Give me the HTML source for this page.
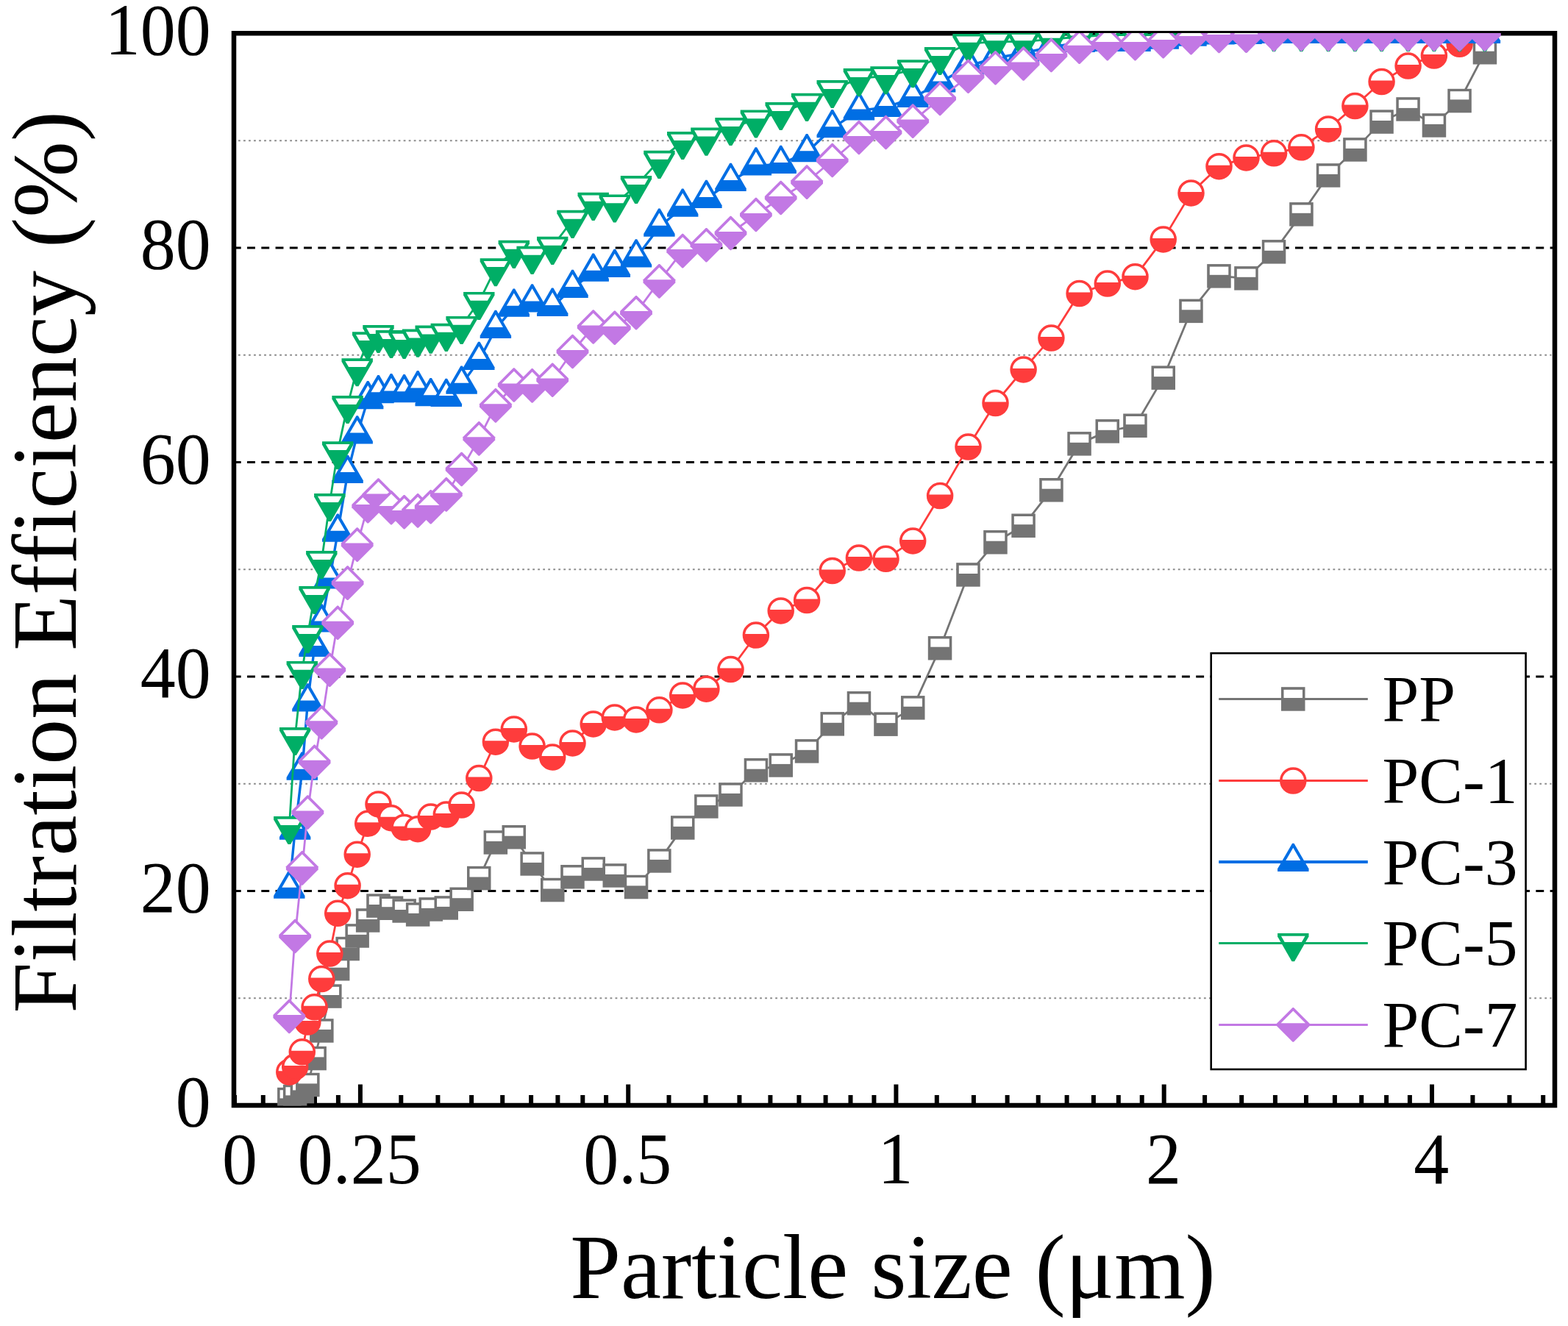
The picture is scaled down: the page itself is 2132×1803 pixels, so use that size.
<!DOCTYPE html>
<html lang="en"><head><meta charset="utf-8"><title>Filtration Efficiency vs Particle size</title>
<style>html,body{margin:0;padding:0;background:#fff;}body{width:2132px;height:1803px;overflow:hidden;}svg{display:block;}text{font-family:"Liberation Serif","Times New Roman",serif;fill:#000;font-variant-ligatures:none;font-kerning:none;}.tk{font-size:96px;}.ti{font-size:123.8px;}.lg{font-size:89.5px;}</style></head><body>
<svg xmlns="http://www.w3.org/2000/svg" width="2132" height="1803" viewBox="0 0 2132 1803">
<rect width="2132" height="1803" fill="#fff"/>
<defs><clipPath id="plotclip"><rect x="318" y="45" width="1796" height="1458.6"/></clipPath></defs>
<g id="grid" fill="none">
<line x1="324" x2="2109.5" y1="1357.25" y2="1357.25" stroke="#8c8c8c" stroke-width="2" stroke-dasharray="2.8 4.221"/>
<line x1="324" x2="2109.5" y1="1065.75" y2="1065.75" stroke="#8c8c8c" stroke-width="2" stroke-dasharray="2.8 4.221"/>
<line x1="324" x2="2109.5" y1="774.25" y2="774.25" stroke="#8c8c8c" stroke-width="2" stroke-dasharray="2.8 4.221"/>
<line x1="324" x2="2109.5" y1="482.75" y2="482.75" stroke="#8c8c8c" stroke-width="2" stroke-dasharray="2.8 4.221"/>
<line x1="324" x2="2109.5" y1="191.25" y2="191.25" stroke="#8c8c8c" stroke-width="2" stroke-dasharray="2.8 4.221"/>
<line x1="316.8" x2="2111" y1="1211.50" y2="1211.50" stroke="#000" stroke-width="3" stroke-dasharray="10.9 8.356"/>
<line x1="316.8" x2="2111" y1="920.00" y2="920.00" stroke="#000" stroke-width="3" stroke-dasharray="10.9 8.356"/>
<line x1="316.8" x2="2111" y1="628.50" y2="628.50" stroke="#000" stroke-width="3" stroke-dasharray="10.9 8.356"/>
<line x1="316.8" x2="2111" y1="337.00" y2="337.00" stroke="#000" stroke-width="3" stroke-dasharray="10.9 8.356"/>
</g>
<rect id="frame" x="318.0" y="45.25" width="1796.0" height="1457.75" fill="none" stroke="#000" stroke-width="6.5"/>
<g id="ticks" stroke="#000" stroke-width="6">
<line x1="319.0" x2="319.0" y1="1489" y2="1503"/>
<line x1="357.8" x2="357.8" y1="1489" y2="1503"/>
<line x1="394.1" x2="394.1" y1="1489" y2="1503"/>
<line x1="428.0" x2="428.0" y1="1489" y2="1503"/>
<line x1="459.9" x2="459.9" y1="1489" y2="1503"/>
<line x1="489.9" x2="489.9" y1="1474.5" y2="1503"/>
<line x1="545.3" x2="545.3" y1="1489" y2="1503"/>
<line x1="595.4" x2="595.4" y1="1489" y2="1503"/>
<line x1="641.1" x2="641.1" y1="1489" y2="1503"/>
<line x1="683.2" x2="683.2" y1="1489" y2="1503"/>
<line x1="722.1" x2="722.1" y1="1489" y2="1503"/>
<line x1="758.4" x2="758.4" y1="1489" y2="1503"/>
<line x1="792.3" x2="792.3" y1="1489" y2="1503"/>
<line x1="824.1" x2="824.1" y1="1489" y2="1503"/>
<line x1="854.2" x2="854.2" y1="1474.5" y2="1503"/>
<line x1="909.5" x2="909.5" y1="1489" y2="1503"/>
<line x1="959.6" x2="959.6" y1="1489" y2="1503"/>
<line x1="1005.4" x2="1005.4" y1="1489" y2="1503"/>
<line x1="1047.4" x2="1047.4" y1="1489" y2="1503"/>
<line x1="1086.4" x2="1086.4" y1="1489" y2="1503"/>
<line x1="1122.6" x2="1122.6" y1="1489" y2="1503"/>
<line x1="1156.5" x2="1156.5" y1="1489" y2="1503"/>
<line x1="1188.4" x2="1188.4" y1="1489" y2="1503"/>
<line x1="1218.4" x2="1218.4" y1="1474.5" y2="1503"/>
<line x1="1273.8" x2="1273.8" y1="1489" y2="1503"/>
<line x1="1323.9" x2="1323.9" y1="1489" y2="1503"/>
<line x1="1369.6" x2="1369.6" y1="1489" y2="1503"/>
<line x1="1411.7" x2="1411.7" y1="1489" y2="1503"/>
<line x1="1450.6" x2="1450.6" y1="1489" y2="1503"/>
<line x1="1486.9" x2="1486.9" y1="1489" y2="1503"/>
<line x1="1520.8" x2="1520.8" y1="1489" y2="1503"/>
<line x1="1552.7" x2="1552.7" y1="1489" y2="1503"/>
<line x1="1582.7" x2="1582.7" y1="1474.5" y2="1503"/>
<line x1="1638.1" x2="1638.1" y1="1489" y2="1503"/>
<line x1="1688.2" x2="1688.2" y1="1489" y2="1503"/>
<line x1="1733.9" x2="1733.9" y1="1489" y2="1503"/>
<line x1="1776.0" x2="1776.0" y1="1489" y2="1503"/>
<line x1="1814.9" x2="1814.9" y1="1489" y2="1503"/>
<line x1="1851.2" x2="1851.2" y1="1489" y2="1503"/>
<line x1="1885.1" x2="1885.1" y1="1489" y2="1503"/>
<line x1="1916.9" x2="1916.9" y1="1489" y2="1503"/>
<line x1="1947.0" x2="1947.0" y1="1474.5" y2="1503"/>
<line x1="2002.4" x2="2002.4" y1="1489" y2="1503"/>
<line x1="2052.4" x2="2052.4" y1="1489" y2="1503"/>
<line x1="2098.2" x2="2098.2" y1="1489" y2="1503"/>
</g>
<g id="series" clip-path="url(#plotclip)">
<g id="s-pp"><polyline points="393.3,1495 401.2,1491 410.8,1484 418.4,1475 427.6,1439 437.3,1401.4 448.3,1354.6 459.2,1317.2 472.6,1290.1 485.7,1272.4 500.2,1251.5 514.5,1231.6 532,1234.7 549.6,1238.5 568.1,1243.4 585.7,1236.4 606.8,1234.4 627.6,1222.8 651.3,1194.1 673.9,1145.4 698.8,1138.2 723.6,1174.4 751.2,1210.1 778.5,1192.3 806.7,1181.4 835.8,1190.4 865,1206 896.4,1170.4 928.2,1125.4 960.4,1096.4 993.5,1080.4 1027.9,1047.3 1061.7,1040.4 1097.1,1021.4 1131.7,984.4 1167.9,956.2 1204.5,984.6 1241.2,962.4 1278.1,881.3 1316.5,781.5 1353.5,737.3 1391.6,714.8 1429.4,666.2 1467.6,603.4 1505.8,586.4 1543.5,578.8 1581.7,513.6 1619.5,422.8 1657.5,375.4 1694.5,378.4 1732.1,342.4 1769.4,291.4 1806.1,238.4 1842.4,203.4 1878.6,165.6 1914.6,148.4 1949.9,170.4 1984.6,137 2018.9,71.3" fill="none" stroke="#747474" stroke-width="2.8" stroke-linejoin="round"/>
<rect x="377.1" y="1478.8" width="32.5" height="32.5" fill="#747474"/><rect x="380.6" y="1482.2" width="25.5" height="11.2" fill="#fff"/>
<rect x="384.9" y="1474.8" width="32.5" height="32.5" fill="#747474"/><rect x="388.4" y="1478.2" width="25.5" height="11.2" fill="#fff"/>
<rect x="394.6" y="1467.8" width="32.5" height="32.5" fill="#747474"/><rect x="398.1" y="1471.2" width="25.5" height="11.2" fill="#fff"/>
<rect x="402.1" y="1458.8" width="32.5" height="32.5" fill="#747474"/><rect x="405.6" y="1462.2" width="25.5" height="11.2" fill="#fff"/>
<rect x="411.4" y="1422.8" width="32.5" height="32.5" fill="#747474"/><rect x="414.9" y="1426.2" width="25.5" height="11.2" fill="#fff"/>
<rect x="421.1" y="1385.2" width="32.5" height="32.5" fill="#747474"/><rect x="424.6" y="1388.7" width="25.5" height="11.2" fill="#fff"/>
<rect x="432.1" y="1338.3" width="32.5" height="32.5" fill="#747474"/><rect x="435.6" y="1341.8" width="25.5" height="11.2" fill="#fff"/>
<rect x="442.9" y="1301" width="32.5" height="32.5" fill="#747474"/><rect x="446.4" y="1304.5" width="25.5" height="11.2" fill="#fff"/>
<rect x="456.4" y="1273.8" width="32.5" height="32.5" fill="#747474"/><rect x="459.9" y="1277.3" width="25.5" height="11.2" fill="#fff"/>
<rect x="469.4" y="1256.2" width="32.5" height="32.5" fill="#747474"/><rect x="472.9" y="1259.7" width="25.5" height="11.2" fill="#fff"/>
<rect x="483.9" y="1235.2" width="32.5" height="32.5" fill="#747474"/><rect x="487.4" y="1238.8" width="25.5" height="11.2" fill="#fff"/>
<rect x="498.2" y="1215.3" width="32.5" height="32.5" fill="#747474"/><rect x="501.8" y="1218.8" width="25.5" height="11.2" fill="#fff"/>
<rect x="515.8" y="1218.5" width="32.5" height="32.5" fill="#747474"/><rect x="519.2" y="1222" width="25.5" height="11.2" fill="#fff"/>
<rect x="533.4" y="1222.2" width="32.5" height="32.5" fill="#747474"/><rect x="536.9" y="1225.8" width="25.5" height="11.2" fill="#fff"/>
<rect x="551.9" y="1227.2" width="32.5" height="32.5" fill="#747474"/><rect x="555.4" y="1230.7" width="25.5" height="11.2" fill="#fff"/>
<rect x="569.5" y="1220.2" width="32.5" height="32.5" fill="#747474"/><rect x="573" y="1223.7" width="25.5" height="11.2" fill="#fff"/>
<rect x="590.5" y="1218.2" width="32.5" height="32.5" fill="#747474"/><rect x="594" y="1221.7" width="25.5" height="11.2" fill="#fff"/>
<rect x="611.4" y="1206.5" width="32.5" height="32.5" fill="#747474"/><rect x="614.9" y="1210" width="25.5" height="11.2" fill="#fff"/>
<rect x="635" y="1177.8" width="32.5" height="32.5" fill="#747474"/><rect x="638.5" y="1181.3" width="25.5" height="11.2" fill="#fff"/>
<rect x="657.6" y="1129.2" width="32.5" height="32.5" fill="#747474"/><rect x="661.1" y="1132.7" width="25.5" height="11.2" fill="#fff"/>
<rect x="682.5" y="1122" width="32.5" height="32.5" fill="#747474"/><rect x="686" y="1125.5" width="25.5" height="11.2" fill="#fff"/>
<rect x="707.4" y="1158.2" width="32.5" height="32.5" fill="#747474"/><rect x="710.9" y="1161.7" width="25.5" height="11.2" fill="#fff"/>
<rect x="735" y="1193.8" width="32.5" height="32.5" fill="#747474"/><rect x="738.5" y="1197.3" width="25.5" height="11.2" fill="#fff"/>
<rect x="762.2" y="1176" width="32.5" height="32.5" fill="#747474"/><rect x="765.8" y="1179.5" width="25.5" height="11.2" fill="#fff"/>
<rect x="790.5" y="1165.2" width="32.5" height="32.5" fill="#747474"/><rect x="794" y="1168.7" width="25.5" height="11.2" fill="#fff"/>
<rect x="819.5" y="1174.2" width="32.5" height="32.5" fill="#747474"/><rect x="823" y="1177.7" width="25.5" height="11.2" fill="#fff"/>
<rect x="848.8" y="1189.8" width="32.5" height="32.5" fill="#747474"/><rect x="852.2" y="1193.2" width="25.5" height="11.2" fill="#fff"/>
<rect x="880.1" y="1154.2" width="32.5" height="32.5" fill="#747474"/><rect x="883.6" y="1157.7" width="25.5" height="11.2" fill="#fff"/>
<rect x="912" y="1109.2" width="32.5" height="32.5" fill="#747474"/><rect x="915.5" y="1112.7" width="25.5" height="11.2" fill="#fff"/>
<rect x="944.1" y="1080.2" width="32.5" height="32.5" fill="#747474"/><rect x="947.6" y="1083.7" width="25.5" height="11.2" fill="#fff"/>
<rect x="977.2" y="1064.2" width="32.5" height="32.5" fill="#747474"/><rect x="980.8" y="1067.7" width="25.5" height="11.2" fill="#fff"/>
<rect x="1011.7" y="1031" width="32.5" height="32.5" fill="#747474"/><rect x="1015.2" y="1034.5" width="25.5" height="11.2" fill="#fff"/>
<rect x="1045.5" y="1024.2" width="32.5" height="32.5" fill="#747474"/><rect x="1049" y="1027.7" width="25.5" height="11.2" fill="#fff"/>
<rect x="1080.8" y="1005.1" width="32.5" height="32.5" fill="#747474"/><rect x="1084.3" y="1008.6" width="25.5" height="11.2" fill="#fff"/>
<rect x="1115.5" y="968.1" width="32.5" height="32.5" fill="#747474"/><rect x="1119" y="971.6" width="25.5" height="11.2" fill="#fff"/>
<rect x="1151.7" y="940" width="32.5" height="32.5" fill="#747474"/><rect x="1155.2" y="943.5" width="25.5" height="11.2" fill="#fff"/>
<rect x="1188.2" y="968.4" width="32.5" height="32.5" fill="#747474"/><rect x="1191.8" y="971.9" width="25.5" height="11.2" fill="#fff"/>
<rect x="1225" y="946.1" width="32.5" height="32.5" fill="#747474"/><rect x="1228.5" y="949.6" width="25.5" height="11.2" fill="#fff"/>
<rect x="1261.8" y="865" width="32.5" height="32.5" fill="#747474"/><rect x="1265.3" y="868.5" width="25.5" height="11.2" fill="#fff"/>
<rect x="1300.2" y="765.2" width="32.5" height="32.5" fill="#747474"/><rect x="1303.8" y="768.8" width="25.5" height="11.2" fill="#fff"/>
<rect x="1337.2" y="721" width="32.5" height="32.5" fill="#747474"/><rect x="1340.8" y="724.5" width="25.5" height="11.2" fill="#fff"/>
<rect x="1375.3" y="698.5" width="32.5" height="32.5" fill="#747474"/><rect x="1378.8" y="702" width="25.5" height="11.2" fill="#fff"/>
<rect x="1413.2" y="650" width="32.5" height="32.5" fill="#747474"/><rect x="1416.7" y="653.5" width="25.5" height="11.2" fill="#fff"/>
<rect x="1451.3" y="587.1" width="32.5" height="32.5" fill="#747474"/><rect x="1454.8" y="590.6" width="25.5" height="11.2" fill="#fff"/>
<rect x="1489.5" y="570.1" width="32.5" height="32.5" fill="#747474"/><rect x="1493" y="573.6" width="25.5" height="11.2" fill="#fff"/>
<rect x="1527.2" y="562.5" width="32.5" height="32.5" fill="#747474"/><rect x="1530.8" y="566" width="25.5" height="11.2" fill="#fff"/>
<rect x="1565.5" y="497.4" width="32.5" height="32.5" fill="#747474"/><rect x="1569" y="500.9" width="25.5" height="11.2" fill="#fff"/>
<rect x="1603.2" y="406.6" width="32.5" height="32.5" fill="#747474"/><rect x="1606.8" y="410.1" width="25.5" height="11.2" fill="#fff"/>
<rect x="1641.2" y="359.1" width="32.5" height="32.5" fill="#747474"/><rect x="1644.8" y="362.6" width="25.5" height="11.2" fill="#fff"/>
<rect x="1678.2" y="362.1" width="32.5" height="32.5" fill="#747474"/><rect x="1681.8" y="365.6" width="25.5" height="11.2" fill="#fff"/>
<rect x="1715.8" y="326.1" width="32.5" height="32.5" fill="#747474"/><rect x="1719.3" y="329.6" width="25.5" height="11.2" fill="#fff"/>
<rect x="1753.2" y="275.1" width="32.5" height="32.5" fill="#747474"/><rect x="1756.7" y="278.6" width="25.5" height="11.2" fill="#fff"/>
<rect x="1789.8" y="222.2" width="32.5" height="32.5" fill="#747474"/><rect x="1793.3" y="225.7" width="25.5" height="11.2" fill="#fff"/>
<rect x="1826.2" y="187.2" width="32.5" height="32.5" fill="#747474"/><rect x="1829.7" y="190.7" width="25.5" height="11.2" fill="#fff"/>
<rect x="1862.3" y="149.3" width="32.5" height="32.5" fill="#747474"/><rect x="1865.8" y="152.8" width="25.5" height="11.2" fill="#fff"/>
<rect x="1898.3" y="132.2" width="32.5" height="32.5" fill="#747474"/><rect x="1901.8" y="135.7" width="25.5" height="11.2" fill="#fff"/>
<rect x="1933.7" y="154.2" width="32.5" height="32.5" fill="#747474"/><rect x="1937.2" y="157.7" width="25.5" height="11.2" fill="#fff"/>
<rect x="1968.3" y="120.8" width="32.5" height="32.5" fill="#747474"/><rect x="1971.8" y="124.2" width="25.5" height="11.2" fill="#fff"/>
<rect x="2002.7" y="55" width="32.5" height="32.5" fill="#747474"/><rect x="2006.2" y="58.5" width="25.5" height="11.2" fill="#fff"/>
</g>
<g id="s-pc1"><polyline points="393.3,1457.7 401.2,1450.4 410.8,1430.3 418.4,1389.5 427.6,1369.3 437.3,1331 448.3,1296.6 459.2,1241.8 472.6,1204.2 485.7,1161.7 500.2,1119.8 514.5,1093.4 532,1112.2 549.6,1125 568.1,1127.2 585.7,1110.6 606.8,1107.5 627.6,1094.6 651.3,1058.1 673.9,1008.7 698.8,991.4 723.6,1014.6 751.2,1029.4 778.5,1010.4 806.7,984.4 835.8,975.4 865,978.4 896.4,965.3 928.2,945.4 960.4,936.7 993.5,910.1 1027.9,863.6 1061.7,830.4 1097.1,816 1131.7,776 1167.9,758.6 1204.5,759.8 1241.2,735.4 1278.1,674.1 1316.5,607.6 1353.5,548 1391.6,502.4 1429.4,459.6 1467.6,399 1505.8,385.6 1543.5,376.2 1581.7,325.4 1619.5,262.4 1657.5,226.2 1694.5,214.4 1732.1,208.3 1769.4,200.3 1806.1,175.4 1842.4,144 1878.6,111 1914.6,89.6 1949.9,75.5 1984.6,59.8" fill="none" stroke="#fe3c3c" stroke-width="2.8" stroke-linejoin="round"/>
<circle cx="393.3" cy="1457.7" r="16.5" fill="#fff" stroke="#fe3c3c" stroke-width="3.5"/><path d="M376.8 1456.2H409.8V1457.7A16.5 16.5 0 0 1 376.8 1457.7Z" fill="#fe3c3c"/>
<circle cx="401.2" cy="1450.4" r="16.5" fill="#fff" stroke="#fe3c3c" stroke-width="3.5"/><path d="M384.7 1448.9H417.7V1450.4A16.5 16.5 0 0 1 384.7 1450.4Z" fill="#fe3c3c"/>
<circle cx="410.8" cy="1430.3" r="16.5" fill="#fff" stroke="#fe3c3c" stroke-width="3.5"/><path d="M394.3 1428.8H427.3V1430.3A16.5 16.5 0 0 1 394.3 1430.3Z" fill="#fe3c3c"/>
<circle cx="418.4" cy="1389.5" r="16.5" fill="#fff" stroke="#fe3c3c" stroke-width="3.5"/><path d="M401.9 1388H434.9V1389.5A16.5 16.5 0 0 1 401.9 1389.5Z" fill="#fe3c3c"/>
<circle cx="427.6" cy="1369.3" r="16.5" fill="#fff" stroke="#fe3c3c" stroke-width="3.5"/><path d="M411.1 1367.8H444.1V1369.3A16.5 16.5 0 0 1 411.1 1369.3Z" fill="#fe3c3c"/>
<circle cx="437.3" cy="1331" r="16.5" fill="#fff" stroke="#fe3c3c" stroke-width="3.5"/><path d="M420.8 1329.5H453.8V1331A16.5 16.5 0 0 1 420.8 1331Z" fill="#fe3c3c"/>
<circle cx="448.3" cy="1296.6" r="16.5" fill="#fff" stroke="#fe3c3c" stroke-width="3.5"/><path d="M431.8 1295.1H464.8V1296.6A16.5 16.5 0 0 1 431.8 1296.6Z" fill="#fe3c3c"/>
<circle cx="459.2" cy="1241.8" r="16.5" fill="#fff" stroke="#fe3c3c" stroke-width="3.5"/><path d="M442.7 1240.3H475.7V1241.8A16.5 16.5 0 0 1 442.7 1241.8Z" fill="#fe3c3c"/>
<circle cx="472.6" cy="1204.2" r="16.5" fill="#fff" stroke="#fe3c3c" stroke-width="3.5"/><path d="M456.1 1202.7H489.1V1204.2A16.5 16.5 0 0 1 456.1 1204.2Z" fill="#fe3c3c"/>
<circle cx="485.7" cy="1161.7" r="16.5" fill="#fff" stroke="#fe3c3c" stroke-width="3.5"/><path d="M469.2 1160.2H502.2V1161.7A16.5 16.5 0 0 1 469.2 1161.7Z" fill="#fe3c3c"/>
<circle cx="500.2" cy="1119.8" r="16.5" fill="#fff" stroke="#fe3c3c" stroke-width="3.5"/><path d="M483.7 1118.3H516.7V1119.8A16.5 16.5 0 0 1 483.7 1119.8Z" fill="#fe3c3c"/>
<circle cx="514.5" cy="1093.4" r="16.5" fill="#fff" stroke="#fe3c3c" stroke-width="3.5"/><path d="M498 1091.9H531V1093.4A16.5 16.5 0 0 1 498 1093.4Z" fill="#fe3c3c"/>
<circle cx="532" cy="1112.2" r="16.5" fill="#fff" stroke="#fe3c3c" stroke-width="3.5"/><path d="M515.5 1110.7H548.5V1112.2A16.5 16.5 0 0 1 515.5 1112.2Z" fill="#fe3c3c"/>
<circle cx="549.6" cy="1125" r="16.5" fill="#fff" stroke="#fe3c3c" stroke-width="3.5"/><path d="M533.1 1123.5H566.1V1125A16.5 16.5 0 0 1 533.1 1125Z" fill="#fe3c3c"/>
<circle cx="568.1" cy="1127.2" r="16.5" fill="#fff" stroke="#fe3c3c" stroke-width="3.5"/><path d="M551.6 1125.7H584.6V1127.2A16.5 16.5 0 0 1 551.6 1127.2Z" fill="#fe3c3c"/>
<circle cx="585.7" cy="1110.6" r="16.5" fill="#fff" stroke="#fe3c3c" stroke-width="3.5"/><path d="M569.2 1109.1H602.2V1110.6A16.5 16.5 0 0 1 569.2 1110.6Z" fill="#fe3c3c"/>
<circle cx="606.8" cy="1107.5" r="16.5" fill="#fff" stroke="#fe3c3c" stroke-width="3.5"/><path d="M590.3 1106H623.3V1107.5A16.5 16.5 0 0 1 590.3 1107.5Z" fill="#fe3c3c"/>
<circle cx="627.6" cy="1094.6" r="16.5" fill="#fff" stroke="#fe3c3c" stroke-width="3.5"/><path d="M611.1 1093.1H644.1V1094.6A16.5 16.5 0 0 1 611.1 1094.6Z" fill="#fe3c3c"/>
<circle cx="651.3" cy="1058.1" r="16.5" fill="#fff" stroke="#fe3c3c" stroke-width="3.5"/><path d="M634.8 1056.6H667.8V1058.1A16.5 16.5 0 0 1 634.8 1058.1Z" fill="#fe3c3c"/>
<circle cx="673.9" cy="1008.7" r="16.5" fill="#fff" stroke="#fe3c3c" stroke-width="3.5"/><path d="M657.4 1007.2H690.4V1008.7A16.5 16.5 0 0 1 657.4 1008.7Z" fill="#fe3c3c"/>
<circle cx="698.8" cy="991.4" r="16.5" fill="#fff" stroke="#fe3c3c" stroke-width="3.5"/><path d="M682.3 989.9H715.3V991.4A16.5 16.5 0 0 1 682.3 991.4Z" fill="#fe3c3c"/>
<circle cx="723.6" cy="1014.6" r="16.5" fill="#fff" stroke="#fe3c3c" stroke-width="3.5"/><path d="M707.1 1013.1H740.1V1014.6A16.5 16.5 0 0 1 707.1 1014.6Z" fill="#fe3c3c"/>
<circle cx="751.2" cy="1029.4" r="16.5" fill="#fff" stroke="#fe3c3c" stroke-width="3.5"/><path d="M734.7 1027.9H767.7V1029.4A16.5 16.5 0 0 1 734.7 1029.4Z" fill="#fe3c3c"/>
<circle cx="778.5" cy="1010.4" r="16.5" fill="#fff" stroke="#fe3c3c" stroke-width="3.5"/><path d="M762 1008.9H795V1010.4A16.5 16.5 0 0 1 762 1010.4Z" fill="#fe3c3c"/>
<circle cx="806.7" cy="984.4" r="16.5" fill="#fff" stroke="#fe3c3c" stroke-width="3.5"/><path d="M790.2 982.9H823.2V984.4A16.5 16.5 0 0 1 790.2 984.4Z" fill="#fe3c3c"/>
<circle cx="835.8" cy="975.4" r="16.5" fill="#fff" stroke="#fe3c3c" stroke-width="3.5"/><path d="M819.3 973.9H852.3V975.4A16.5 16.5 0 0 1 819.3 975.4Z" fill="#fe3c3c"/>
<circle cx="865" cy="978.4" r="16.5" fill="#fff" stroke="#fe3c3c" stroke-width="3.5"/><path d="M848.5 976.9H881.5V978.4A16.5 16.5 0 0 1 848.5 978.4Z" fill="#fe3c3c"/>
<circle cx="896.4" cy="965.3" r="16.5" fill="#fff" stroke="#fe3c3c" stroke-width="3.5"/><path d="M879.9 963.8H912.9V965.3A16.5 16.5 0 0 1 879.9 965.3Z" fill="#fe3c3c"/>
<circle cx="928.2" cy="945.4" r="16.5" fill="#fff" stroke="#fe3c3c" stroke-width="3.5"/><path d="M911.7 943.9H944.7V945.4A16.5 16.5 0 0 1 911.7 945.4Z" fill="#fe3c3c"/>
<circle cx="960.4" cy="936.7" r="16.5" fill="#fff" stroke="#fe3c3c" stroke-width="3.5"/><path d="M943.9 935.2H976.9V936.7A16.5 16.5 0 0 1 943.9 936.7Z" fill="#fe3c3c"/>
<circle cx="993.5" cy="910.1" r="16.5" fill="#fff" stroke="#fe3c3c" stroke-width="3.5"/><path d="M977 908.6H1010V910.1A16.5 16.5 0 0 1 977 910.1Z" fill="#fe3c3c"/>
<circle cx="1027.9" cy="863.6" r="16.5" fill="#fff" stroke="#fe3c3c" stroke-width="3.5"/><path d="M1011.4 862.1H1044.4V863.6A16.5 16.5 0 0 1 1011.4 863.6Z" fill="#fe3c3c"/>
<circle cx="1061.7" cy="830.4" r="16.5" fill="#fff" stroke="#fe3c3c" stroke-width="3.5"/><path d="M1045.2 828.9H1078.2V830.4A16.5 16.5 0 0 1 1045.2 830.4Z" fill="#fe3c3c"/>
<circle cx="1097.1" cy="816" r="16.5" fill="#fff" stroke="#fe3c3c" stroke-width="3.5"/><path d="M1080.6 814.5H1113.6V816A16.5 16.5 0 0 1 1080.6 816Z" fill="#fe3c3c"/>
<circle cx="1131.7" cy="776" r="16.5" fill="#fff" stroke="#fe3c3c" stroke-width="3.5"/><path d="M1115.2 774.5H1148.2V776A16.5 16.5 0 0 1 1115.2 776Z" fill="#fe3c3c"/>
<circle cx="1167.9" cy="758.6" r="16.5" fill="#fff" stroke="#fe3c3c" stroke-width="3.5"/><path d="M1151.4 757.1H1184.4V758.6A16.5 16.5 0 0 1 1151.4 758.6Z" fill="#fe3c3c"/>
<circle cx="1204.5" cy="759.8" r="16.5" fill="#fff" stroke="#fe3c3c" stroke-width="3.5"/><path d="M1188 758.3H1221V759.8A16.5 16.5 0 0 1 1188 759.8Z" fill="#fe3c3c"/>
<circle cx="1241.2" cy="735.4" r="16.5" fill="#fff" stroke="#fe3c3c" stroke-width="3.5"/><path d="M1224.7 733.9H1257.7V735.4A16.5 16.5 0 0 1 1224.7 735.4Z" fill="#fe3c3c"/>
<circle cx="1278.1" cy="674.1" r="16.5" fill="#fff" stroke="#fe3c3c" stroke-width="3.5"/><path d="M1261.6 672.6H1294.6V674.1A16.5 16.5 0 0 1 1261.6 674.1Z" fill="#fe3c3c"/>
<circle cx="1316.5" cy="607.6" r="16.5" fill="#fff" stroke="#fe3c3c" stroke-width="3.5"/><path d="M1300 606.1H1333V607.6A16.5 16.5 0 0 1 1300 607.6Z" fill="#fe3c3c"/>
<circle cx="1353.5" cy="548" r="16.5" fill="#fff" stroke="#fe3c3c" stroke-width="3.5"/><path d="M1337 546.5H1370V548A16.5 16.5 0 0 1 1337 548Z" fill="#fe3c3c"/>
<circle cx="1391.6" cy="502.4" r="16.5" fill="#fff" stroke="#fe3c3c" stroke-width="3.5"/><path d="M1375.1 500.9H1408.1V502.4A16.5 16.5 0 0 1 1375.1 502.4Z" fill="#fe3c3c"/>
<circle cx="1429.4" cy="459.6" r="16.5" fill="#fff" stroke="#fe3c3c" stroke-width="3.5"/><path d="M1412.9 458.1H1445.9V459.6A16.5 16.5 0 0 1 1412.9 459.6Z" fill="#fe3c3c"/>
<circle cx="1467.6" cy="399" r="16.5" fill="#fff" stroke="#fe3c3c" stroke-width="3.5"/><path d="M1451.1 397.5H1484.1V399A16.5 16.5 0 0 1 1451.1 399Z" fill="#fe3c3c"/>
<circle cx="1505.8" cy="385.6" r="16.5" fill="#fff" stroke="#fe3c3c" stroke-width="3.5"/><path d="M1489.3 384.1H1522.3V385.6A16.5 16.5 0 0 1 1489.3 385.6Z" fill="#fe3c3c"/>
<circle cx="1543.5" cy="376.2" r="16.5" fill="#fff" stroke="#fe3c3c" stroke-width="3.5"/><path d="M1527 374.7H1560V376.2A16.5 16.5 0 0 1 1527 376.2Z" fill="#fe3c3c"/>
<circle cx="1581.7" cy="325.4" r="16.5" fill="#fff" stroke="#fe3c3c" stroke-width="3.5"/><path d="M1565.2 323.9H1598.2V325.4A16.5 16.5 0 0 1 1565.2 325.4Z" fill="#fe3c3c"/>
<circle cx="1619.5" cy="262.4" r="16.5" fill="#fff" stroke="#fe3c3c" stroke-width="3.5"/><path d="M1603 260.9H1636V262.4A16.5 16.5 0 0 1 1603 262.4Z" fill="#fe3c3c"/>
<circle cx="1657.5" cy="226.2" r="16.5" fill="#fff" stroke="#fe3c3c" stroke-width="3.5"/><path d="M1641 224.7H1674V226.2A16.5 16.5 0 0 1 1641 226.2Z" fill="#fe3c3c"/>
<circle cx="1694.5" cy="214.4" r="16.5" fill="#fff" stroke="#fe3c3c" stroke-width="3.5"/><path d="M1678 212.9H1711V214.4A16.5 16.5 0 0 1 1678 214.4Z" fill="#fe3c3c"/>
<circle cx="1732.1" cy="208.3" r="16.5" fill="#fff" stroke="#fe3c3c" stroke-width="3.5"/><path d="M1715.6 206.8H1748.6V208.3A16.5 16.5 0 0 1 1715.6 208.3Z" fill="#fe3c3c"/>
<circle cx="1769.4" cy="200.3" r="16.5" fill="#fff" stroke="#fe3c3c" stroke-width="3.5"/><path d="M1752.9 198.8H1785.9V200.3A16.5 16.5 0 0 1 1752.9 200.3Z" fill="#fe3c3c"/>
<circle cx="1806.1" cy="175.4" r="16.5" fill="#fff" stroke="#fe3c3c" stroke-width="3.5"/><path d="M1789.6 173.9H1822.6V175.4A16.5 16.5 0 0 1 1789.6 175.4Z" fill="#fe3c3c"/>
<circle cx="1842.4" cy="144" r="16.5" fill="#fff" stroke="#fe3c3c" stroke-width="3.5"/><path d="M1825.9 142.5H1858.9V144A16.5 16.5 0 0 1 1825.9 144Z" fill="#fe3c3c"/>
<circle cx="1878.6" cy="111" r="16.5" fill="#fff" stroke="#fe3c3c" stroke-width="3.5"/><path d="M1862.1 109.5H1895.1V111A16.5 16.5 0 0 1 1862.1 111Z" fill="#fe3c3c"/>
<circle cx="1914.6" cy="89.6" r="16.5" fill="#fff" stroke="#fe3c3c" stroke-width="3.5"/><path d="M1898.1 88.1H1931.1V89.6A16.5 16.5 0 0 1 1898.1 89.6Z" fill="#fe3c3c"/>
<circle cx="1949.9" cy="75.5" r="16.5" fill="#fff" stroke="#fe3c3c" stroke-width="3.5"/><path d="M1933.4 74H1966.4V75.5A16.5 16.5 0 0 1 1933.4 75.5Z" fill="#fe3c3c"/>
<circle cx="1984.6" cy="59.8" r="16.5" fill="#fff" stroke="#fe3c3c" stroke-width="3.5"/><path d="M1968.1 58.3H2001.1V59.8A16.5 16.5 0 0 1 1968.1 59.8Z" fill="#fe3c3c"/>
</g>
<g id="s-pc3"><polyline points="393.3,1208.8 401.2,1128.7 410.8,1047.7 418.4,954.6 427.6,879.9 437.3,846.6 448.3,787.5 459.2,723.7 472.6,644 485.7,590.6 500.2,543.2 514.5,535.2 532,533.4 549.6,534.2 568.1,529.4 585.7,539.2 606.8,540 627.6,522.8 651.3,490 673.9,447.1 698.8,417.8 723.6,411.5 751.2,416.9 778.5,392 806.7,369.8 835.8,364 865,350.6 896.4,308.8 928.2,281.8 960.4,270 993.5,247 1027.9,225.6 1061.7,223 1097.1,207.2 1131.7,174.2 1167.9,150.4 1204.5,146 1241.2,133 1278.1,112.5 1316.5,89.5 1353.5,79 1391.6,72 1429.4,64 1467.6,58 1505.8,56.9 1543.5,56.9 1581.7,53.8 1619.5,49.8 1657.5,47.5 1694.5,47 1732.1,46 1769.4,46 1806.1,46 1842.4,46 1878.6,46 1914.6,46 1949.9,46 1984.6,46 2018.9,46" fill="none" stroke="#006ee4" stroke-width="3.4" stroke-linejoin="round"/>
<path d="M392.1 1183.5L394.5 1183.5L414.5 1218.1L414.5 1221.8L372.1 1221.8L372.1 1218.1Z" fill="#006ee4"/><path d="M393.3 1189.5L403.3 1206.8L383.3 1206.8Z" fill="#fff"/>
<path d="M400 1103.4L402.4 1103.4L422.4 1138L422.4 1141.7L380 1141.7L380 1138Z" fill="#006ee4"/><path d="M401.2 1109.4L411.2 1126.7L391.2 1126.7Z" fill="#fff"/>
<path d="M409.6 1022.4L412 1022.4L432 1057L432 1060.7L389.6 1060.7L389.6 1057Z" fill="#006ee4"/><path d="M410.8 1028.4L420.8 1045.7L400.8 1045.7Z" fill="#fff"/>
<path d="M417.2 929.3L419.6 929.3L439.6 963.9L439.6 967.6L397.2 967.6L397.2 963.9Z" fill="#006ee4"/><path d="M418.4 935.3L428.4 952.6L408.4 952.6Z" fill="#fff"/>
<path d="M426.4 854.6L428.8 854.6L448.8 889.2L448.8 892.9L406.4 892.9L406.4 889.2Z" fill="#006ee4"/><path d="M427.6 860.6L437.6 877.9L417.6 877.9Z" fill="#fff"/>
<path d="M436.1 821.3L438.5 821.3L458.5 855.9L458.5 859.6L416.1 859.6L416.1 855.9Z" fill="#006ee4"/><path d="M437.3 827.3L447.3 844.6L427.3 844.6Z" fill="#fff"/>
<path d="M447.1 762.2L449.5 762.2L469.5 796.8L469.5 800.5L427.1 800.5L427.1 796.8Z" fill="#006ee4"/><path d="M448.3 768.2L458.3 785.5L438.3 785.5Z" fill="#fff"/>
<path d="M458 698.4L460.4 698.4L480.4 733L480.4 736.7L438 736.7L438 733Z" fill="#006ee4"/><path d="M459.2 704.4L469.2 721.7L449.2 721.7Z" fill="#fff"/>
<path d="M471.4 618.7L473.8 618.7L493.8 653.3L493.8 657L451.4 657L451.4 653.3Z" fill="#006ee4"/><path d="M472.6 624.7L482.6 642L462.6 642Z" fill="#fff"/>
<path d="M484.5 565.3L486.9 565.3L506.9 599.9L506.9 603.6L464.5 603.6L464.5 599.9Z" fill="#006ee4"/><path d="M485.7 571.3L495.7 588.6L475.7 588.6Z" fill="#fff"/>
<path d="M499 517.9L501.4 517.9L521.4 552.5L521.4 556.2L479 556.2L479 552.5Z" fill="#006ee4"/><path d="M500.2 523.9L510.2 541.2L490.2 541.2Z" fill="#fff"/>
<path d="M513.3 509.9L515.7 509.9L535.7 544.5L535.7 548.2L493.3 548.2L493.3 544.5Z" fill="#006ee4"/><path d="M514.5 515.9L524.5 533.2L504.5 533.2Z" fill="#fff"/>
<path d="M530.8 508.1L533.2 508.1L553.2 542.7L553.2 546.4L510.8 546.4L510.8 542.7Z" fill="#006ee4"/><path d="M532 514.1L542 531.4L522 531.4Z" fill="#fff"/>
<path d="M548.4 508.9L550.8 508.9L570.8 543.5L570.8 547.2L528.4 547.2L528.4 543.5Z" fill="#006ee4"/><path d="M549.6 514.9L559.6 532.2L539.6 532.2Z" fill="#fff"/>
<path d="M566.9 504.1L569.3 504.1L589.3 538.7L589.3 542.4L546.9 542.4L546.9 538.7Z" fill="#006ee4"/><path d="M568.1 510.1L578.1 527.4L558.1 527.4Z" fill="#fff"/>
<path d="M584.5 513.9L586.9 513.9L606.9 548.5L606.9 552.2L564.5 552.2L564.5 548.5Z" fill="#006ee4"/><path d="M585.7 519.9L595.7 537.2L575.7 537.2Z" fill="#fff"/>
<path d="M605.6 514.7L608 514.7L628 549.3L628 553L585.6 553L585.6 549.3Z" fill="#006ee4"/><path d="M606.8 520.7L616.8 538L596.8 538Z" fill="#fff"/>
<path d="M626.4 497.5L628.8 497.5L648.8 532.1L648.8 535.8L606.4 535.8L606.4 532.1Z" fill="#006ee4"/><path d="M627.6 503.5L637.6 520.8L617.6 520.8Z" fill="#fff"/>
<path d="M650.1 464.7L652.5 464.7L672.5 499.3L672.5 503L630.1 503L630.1 499.3Z" fill="#006ee4"/><path d="M651.3 470.7L661.3 488L641.3 488Z" fill="#fff"/>
<path d="M672.7 421.8L675.1 421.8L695.1 456.4L695.1 460.1L652.7 460.1L652.7 456.4Z" fill="#006ee4"/><path d="M673.9 427.8L683.9 445.1L663.9 445.1Z" fill="#fff"/>
<path d="M697.6 392.5L700 392.5L720 427.1L720 430.8L677.6 430.8L677.6 427.1Z" fill="#006ee4"/><path d="M698.8 398.5L708.8 415.8L688.8 415.8Z" fill="#fff"/>
<path d="M722.4 386.2L724.8 386.2L744.8 420.8L744.8 424.5L702.4 424.5L702.4 420.8Z" fill="#006ee4"/><path d="M723.6 392.2L733.6 409.5L713.6 409.5Z" fill="#fff"/>
<path d="M750 391.6L752.4 391.6L772.4 426.2L772.4 429.9L730 429.9L730 426.2Z" fill="#006ee4"/><path d="M751.2 397.6L761.2 414.9L741.2 414.9Z" fill="#fff"/>
<path d="M777.3 366.7L779.7 366.7L799.7 401.3L799.7 405L757.3 405L757.3 401.3Z" fill="#006ee4"/><path d="M778.5 372.7L788.5 390L768.5 390Z" fill="#fff"/>
<path d="M805.5 344.5L807.9 344.5L827.9 379.1L827.9 382.8L785.5 382.8L785.5 379.1Z" fill="#006ee4"/><path d="M806.7 350.5L816.7 367.8L796.7 367.8Z" fill="#fff"/>
<path d="M834.6 338.7L837 338.7L857 373.3L857 377L814.6 377L814.6 373.3Z" fill="#006ee4"/><path d="M835.8 344.7L845.8 362L825.8 362Z" fill="#fff"/>
<path d="M863.8 325.3L866.2 325.3L886.2 359.9L886.2 363.6L843.8 363.6L843.8 359.9Z" fill="#006ee4"/><path d="M865 331.3L875 348.6L855 348.6Z" fill="#fff"/>
<path d="M895.2 283.5L897.6 283.5L917.6 318.1L917.6 321.8L875.2 321.8L875.2 318.1Z" fill="#006ee4"/><path d="M896.4 289.5L906.4 306.8L886.4 306.8Z" fill="#fff"/>
<path d="M927 256.5L929.4 256.5L949.4 291.1L949.4 294.8L907 294.8L907 291.1Z" fill="#006ee4"/><path d="M928.2 262.5L938.2 279.8L918.2 279.8Z" fill="#fff"/>
<path d="M959.2 244.7L961.6 244.7L981.6 279.3L981.6 283L939.2 283L939.2 279.3Z" fill="#006ee4"/><path d="M960.4 250.7L970.4 268L950.4 268Z" fill="#fff"/>
<path d="M992.3 221.7L994.7 221.7L1014.7 256.3L1014.7 260L972.3 260L972.3 256.3Z" fill="#006ee4"/><path d="M993.5 227.7L1003.5 245L983.5 245Z" fill="#fff"/>
<path d="M1026.7 200.3L1029.1 200.3L1049.1 234.9L1049.1 238.6L1006.7 238.6L1006.7 234.9Z" fill="#006ee4"/><path d="M1027.9 206.3L1037.9 223.6L1017.9 223.6Z" fill="#fff"/>
<path d="M1060.5 197.7L1062.9 197.7L1082.9 232.3L1082.9 236L1040.5 236L1040.5 232.3Z" fill="#006ee4"/><path d="M1061.7 203.7L1071.7 221L1051.7 221Z" fill="#fff"/>
<path d="M1095.9 181.9L1098.3 181.9L1118.3 216.5L1118.3 220.2L1075.9 220.2L1075.9 216.5Z" fill="#006ee4"/><path d="M1097.1 187.9L1107.1 205.2L1087.1 205.2Z" fill="#fff"/>
<path d="M1130.5 148.9L1132.9 148.9L1152.9 183.5L1152.9 187.2L1110.5 187.2L1110.5 183.5Z" fill="#006ee4"/><path d="M1131.7 154.9L1141.7 172.2L1121.7 172.2Z" fill="#fff"/>
<path d="M1166.7 125.1L1169.1 125.1L1189.1 159.7L1189.1 163.4L1146.7 163.4L1146.7 159.7Z" fill="#006ee4"/><path d="M1167.9 131.1L1177.9 148.4L1157.9 148.4Z" fill="#fff"/>
<path d="M1203.3 120.7L1205.7 120.7L1225.7 155.3L1225.7 159L1183.3 159L1183.3 155.3Z" fill="#006ee4"/><path d="M1204.5 126.7L1214.5 144L1194.5 144Z" fill="#fff"/>
<path d="M1240 107.7L1242.4 107.7L1262.4 142.3L1262.4 146L1220 146L1220 142.3Z" fill="#006ee4"/><path d="M1241.2 113.7L1251.2 131L1231.2 131Z" fill="#fff"/>
<path d="M1276.9 87.2L1279.3 87.2L1299.3 121.8L1299.3 125.5L1256.9 125.5L1256.9 121.8Z" fill="#006ee4"/><path d="M1278.1 93.2L1288.1 110.5L1268.1 110.5Z" fill="#fff"/>
<path d="M1315.3 64.2L1317.7 64.2L1337.7 98.8L1337.7 102.5L1295.3 102.5L1295.3 98.8Z" fill="#006ee4"/><path d="M1316.5 70.2L1326.5 87.5L1306.5 87.5Z" fill="#fff"/>
<path d="M1352.3 53.7L1354.7 53.7L1374.7 88.3L1374.7 92L1332.3 92L1332.3 88.3Z" fill="#006ee4"/><path d="M1353.5 59.7L1363.5 77L1343.5 77Z" fill="#fff"/>
<path d="M1390.4 46.7L1392.8 46.7L1412.8 81.3L1412.8 85L1370.4 85L1370.4 81.3Z" fill="#006ee4"/><path d="M1391.6 52.7L1401.6 70L1381.6 70Z" fill="#fff"/>
<path d="M1428.2 38.7L1430.6 38.7L1450.6 73.3L1450.6 77L1408.2 77L1408.2 73.3Z" fill="#006ee4"/><path d="M1429.4 44.7L1439.4 62L1419.4 62Z" fill="#fff"/>
<path d="M1466.4 32.7L1468.8 32.7L1488.8 67.3L1488.8 71L1446.4 71L1446.4 67.3Z" fill="#006ee4"/><path d="M1467.6 38.7L1477.6 56L1457.6 56Z" fill="#fff"/>
<path d="M1504.6 31.6L1507 31.6L1527 66.2L1527 69.9L1484.6 69.9L1484.6 66.2Z" fill="#006ee4"/><path d="M1505.8 37.6L1515.8 54.9L1495.8 54.9Z" fill="#fff"/>
<path d="M1542.3 31.6L1544.7 31.6L1564.7 66.2L1564.7 69.9L1522.3 69.9L1522.3 66.2Z" fill="#006ee4"/><path d="M1543.5 37.6L1553.5 54.9L1533.5 54.9Z" fill="#fff"/>
<path d="M1580.5 28.5L1582.9 28.5L1602.9 63.1L1602.9 66.8L1560.5 66.8L1560.5 63.1Z" fill="#006ee4"/><path d="M1581.7 34.5L1591.7 51.8L1571.7 51.8Z" fill="#fff"/>
<path d="M1618.3 24.5L1620.7 24.5L1640.7 59.1L1640.7 62.8L1598.3 62.8L1598.3 59.1Z" fill="#006ee4"/><path d="M1619.5 30.5L1629.5 47.8L1609.5 47.8Z" fill="#fff"/>
<path d="M1656.3 22.2L1658.7 22.2L1678.7 56.8L1678.7 60.5L1636.3 60.5L1636.3 56.8Z" fill="#006ee4"/><path d="M1657.5 28.2L1667.5 45.5L1647.5 45.5Z" fill="#fff"/>
<path d="M1693.3 21.7L1695.7 21.7L1715.7 56.3L1715.7 60L1673.3 60L1673.3 56.3Z" fill="#006ee4"/><path d="M1694.5 27.7L1704.5 45L1684.5 45Z" fill="#fff"/>
<path d="M1730.9 20.7L1733.3 20.7L1753.3 55.3L1753.3 59L1710.9 59L1710.9 55.3Z" fill="#006ee4"/><path d="M1732.1 26.7L1742.1 44L1722.1 44Z" fill="#fff"/>
<path d="M1768.2 20.7L1770.6 20.7L1790.6 55.3L1790.6 59L1748.2 59L1748.2 55.3Z" fill="#006ee4"/><path d="M1769.4 26.7L1779.4 44L1759.4 44Z" fill="#fff"/>
<path d="M1804.9 20.7L1807.3 20.7L1827.3 55.3L1827.3 59L1784.9 59L1784.9 55.3Z" fill="#006ee4"/><path d="M1806.1 26.7L1816.1 44L1796.1 44Z" fill="#fff"/>
<path d="M1841.2 20.7L1843.6 20.7L1863.6 55.3L1863.6 59L1821.2 59L1821.2 55.3Z" fill="#006ee4"/><path d="M1842.4 26.7L1852.4 44L1832.4 44Z" fill="#fff"/>
<path d="M1877.4 20.7L1879.8 20.7L1899.8 55.3L1899.8 59L1857.4 59L1857.4 55.3Z" fill="#006ee4"/><path d="M1878.6 26.7L1888.6 44L1868.6 44Z" fill="#fff"/>
<path d="M1913.4 20.7L1915.8 20.7L1935.8 55.3L1935.8 59L1893.4 59L1893.4 55.3Z" fill="#006ee4"/><path d="M1914.6 26.7L1924.6 44L1904.6 44Z" fill="#fff"/>
<path d="M1948.7 20.7L1951.1 20.7L1971.1 55.3L1971.1 59L1928.7 59L1928.7 55.3Z" fill="#006ee4"/><path d="M1949.9 26.7L1959.9 44L1939.9 44Z" fill="#fff"/>
<path d="M1983.4 20.7L1985.8 20.7L2005.8 55.3L2005.8 59L1963.4 59L1963.4 55.3Z" fill="#006ee4"/><path d="M1984.6 26.7L1994.6 44L1974.6 44Z" fill="#fff"/>
<path d="M2017.7 20.7L2020.1 20.7L2040.1 55.3L2040.1 59L1997.7 59L1997.7 55.3Z" fill="#006ee4"/><path d="M2018.9 26.7L2028.9 44L2008.9 44Z" fill="#fff"/>
</g>
<g id="s-pc5"><polyline points="393.3,1123.4 401.2,1002.4 410.8,912.3 418.4,863.5 427.6,810.4 437.3,762.5 448.3,684.4 459.2,613.6 472.6,551.4 485.7,500.6 500.2,464.6 514.5,455.4 532,462.4 549.6,463.4 568.1,461 585.7,456 606.8,453.2 627.6,443.3 651.3,410.3 673.9,364.6 698.8,340.2 723.6,348.2 751.2,335.2 778.5,299.2 806.7,275.2 835.8,277.8 865,252.4 896.4,218.2 928.2,192.4 960.4,187 993.5,173.4 1027.9,162.8 1061.7,152.4 1097.1,140.2 1131.7,122.4 1167.9,106.4 1204.5,103.6 1241.2,94.6 1278.1,77.4 1316.5,59.3 1353.5,56.7 1391.6,56.7 1429.4,53.3 1467.6,50 1505.8,47.5 1543.5,47.5 1581.7,47 1619.5,46.5 1657.5,46 1694.5,46 1732.1,45.6 1769.4,45.6 1806.1,45.6 1842.4,45.6 1878.6,45.6 1914.6,45.6 1949.9,45.6 1984.6,45.6 2018.9,45.6" fill="none" stroke="#00ae66" stroke-width="2.8" stroke-linejoin="round"/>
<path d="M372.1 1110L414.5 1110L414.5 1114.5L395.1 1148.1L391.5 1148.1L372.1 1114.5Z" fill="#00ae66"/><path d="M377 1113.7L409.6 1113.7L404.9 1121.9L381.7 1121.9Z" fill="#fff"/>
<path d="M380 989L422.4 989L422.4 993.5L403 1027.1L399.4 1027.1L380 993.5Z" fill="#00ae66"/><path d="M384.9 992.7L417.5 992.7L412.8 1000.9L389.6 1000.9Z" fill="#fff"/>
<path d="M389.6 898.9L432 898.9L432 903.4L412.6 937L409 937L389.6 903.4Z" fill="#00ae66"/><path d="M394.5 902.6L427.1 902.6L422.4 910.8L399.2 910.8Z" fill="#fff"/>
<path d="M397.2 850.1L439.6 850.1L439.6 854.6L420.2 888.2L416.6 888.2L397.2 854.6Z" fill="#00ae66"/><path d="M402.1 853.8L434.7 853.8L430 862L406.8 862Z" fill="#fff"/>
<path d="M406.4 797L448.8 797L448.8 801.5L429.4 835.1L425.8 835.1L406.4 801.5Z" fill="#00ae66"/><path d="M411.3 800.7L443.9 800.7L439.2 808.9L416 808.9Z" fill="#fff"/>
<path d="M416.1 749.1L458.5 749.1L458.5 753.6L439.1 787.2L435.5 787.2L416.1 753.6Z" fill="#00ae66"/><path d="M421 752.8L453.6 752.8L448.9 761L425.7 761Z" fill="#fff"/>
<path d="M427.1 671L469.5 671L469.5 675.5L450.1 709.1L446.5 709.1L427.1 675.5Z" fill="#00ae66"/><path d="M432 674.7L464.6 674.7L459.9 682.9L436.7 682.9Z" fill="#fff"/>
<path d="M438 600.2L480.4 600.2L480.4 604.7L461 638.3L457.4 638.3L438 604.7Z" fill="#00ae66"/><path d="M442.9 603.9L475.5 603.9L470.8 612.1L447.6 612.1Z" fill="#fff"/>
<path d="M451.4 538L493.8 538L493.8 542.5L474.4 576.1L470.8 576.1L451.4 542.5Z" fill="#00ae66"/><path d="M456.3 541.7L488.9 541.7L484.2 549.9L461 549.9Z" fill="#fff"/>
<path d="M464.5 487.2L506.9 487.2L506.9 491.7L487.5 525.3L483.9 525.3L464.5 491.7Z" fill="#00ae66"/><path d="M469.4 490.9L502 490.9L497.3 499.1L474.1 499.1Z" fill="#fff"/>
<path d="M479 451.2L521.4 451.2L521.4 455.7L502 489.3L498.4 489.3L479 455.7Z" fill="#00ae66"/><path d="M483.9 454.9L516.5 454.9L511.8 463.1L488.6 463.1Z" fill="#fff"/>
<path d="M493.3 442L535.7 442L535.7 446.5L516.3 480.1L512.7 480.1L493.3 446.5Z" fill="#00ae66"/><path d="M498.2 445.7L530.8 445.7L526.1 453.9L502.9 453.9Z" fill="#fff"/>
<path d="M510.8 449L553.2 449L553.2 453.5L533.8 487.1L530.2 487.1L510.8 453.5Z" fill="#00ae66"/><path d="M515.7 452.7L548.3 452.7L543.6 460.9L520.4 460.9Z" fill="#fff"/>
<path d="M528.4 450L570.8 450L570.8 454.5L551.4 488.1L547.8 488.1L528.4 454.5Z" fill="#00ae66"/><path d="M533.3 453.7L565.9 453.7L561.2 461.9L538 461.9Z" fill="#fff"/>
<path d="M546.9 447.6L589.3 447.6L589.3 452.1L569.9 485.7L566.3 485.7L546.9 452.1Z" fill="#00ae66"/><path d="M551.8 451.3L584.4 451.3L579.7 459.5L556.5 459.5Z" fill="#fff"/>
<path d="M564.5 442.6L606.9 442.6L606.9 447.1L587.5 480.7L583.9 480.7L564.5 447.1Z" fill="#00ae66"/><path d="M569.4 446.3L602 446.3L597.3 454.5L574.1 454.5Z" fill="#fff"/>
<path d="M585.6 439.8L628 439.8L628 444.3L608.6 477.9L605 477.9L585.6 444.3Z" fill="#00ae66"/><path d="M590.5 443.5L623.1 443.5L618.4 451.7L595.2 451.7Z" fill="#fff"/>
<path d="M606.4 429.9L648.8 429.9L648.8 434.4L629.4 468L625.8 468L606.4 434.4Z" fill="#00ae66"/><path d="M611.3 433.6L643.9 433.6L639.2 441.8L616 441.8Z" fill="#fff"/>
<path d="M630.1 396.9L672.5 396.9L672.5 401.4L653.1 435L649.5 435L630.1 401.4Z" fill="#00ae66"/><path d="M635 400.6L667.6 400.6L662.9 408.8L639.7 408.8Z" fill="#fff"/>
<path d="M652.7 351.2L695.1 351.2L695.1 355.7L675.7 389.3L672.1 389.3L652.7 355.7Z" fill="#00ae66"/><path d="M657.6 354.9L690.2 354.9L685.5 363.1L662.3 363.1Z" fill="#fff"/>
<path d="M677.6 326.8L720 326.8L720 331.3L700.6 364.9L697 364.9L677.6 331.3Z" fill="#00ae66"/><path d="M682.5 330.5L715.1 330.5L710.4 338.7L687.2 338.7Z" fill="#fff"/>
<path d="M702.4 334.8L744.8 334.8L744.8 339.3L725.4 372.9L721.8 372.9L702.4 339.3Z" fill="#00ae66"/><path d="M707.3 338.5L739.9 338.5L735.2 346.7L712 346.7Z" fill="#fff"/>
<path d="M730 321.8L772.4 321.8L772.4 326.3L753 359.9L749.4 359.9L730 326.3Z" fill="#00ae66"/><path d="M734.9 325.5L767.5 325.5L762.8 333.7L739.6 333.7Z" fill="#fff"/>
<path d="M757.3 285.8L799.7 285.8L799.7 290.3L780.3 323.9L776.7 323.9L757.3 290.3Z" fill="#00ae66"/><path d="M762.2 289.5L794.8 289.5L790.1 297.7L766.9 297.7Z" fill="#fff"/>
<path d="M785.5 261.8L827.9 261.8L827.9 266.3L808.5 299.9L804.9 299.9L785.5 266.3Z" fill="#00ae66"/><path d="M790.4 265.5L823 265.5L818.3 273.7L795.1 273.7Z" fill="#fff"/>
<path d="M814.6 264.4L857 264.4L857 268.9L837.6 302.5L834 302.5L814.6 268.9Z" fill="#00ae66"/><path d="M819.5 268.1L852.1 268.1L847.4 276.3L824.2 276.3Z" fill="#fff"/>
<path d="M843.8 239L886.2 239L886.2 243.5L866.8 277.1L863.2 277.1L843.8 243.5Z" fill="#00ae66"/><path d="M848.7 242.7L881.3 242.7L876.6 250.9L853.4 250.9Z" fill="#fff"/>
<path d="M875.2 204.8L917.6 204.8L917.6 209.3L898.2 242.9L894.6 242.9L875.2 209.3Z" fill="#00ae66"/><path d="M880.1 208.5L912.7 208.5L908 216.7L884.8 216.7Z" fill="#fff"/>
<path d="M907 179L949.4 179L949.4 183.5L930 217.1L926.4 217.1L907 183.5Z" fill="#00ae66"/><path d="M911.9 182.7L944.5 182.7L939.8 190.9L916.6 190.9Z" fill="#fff"/>
<path d="M939.2 173.6L981.6 173.6L981.6 178.1L962.2 211.7L958.6 211.7L939.2 178.1Z" fill="#00ae66"/><path d="M944.1 177.3L976.7 177.3L972 185.5L948.8 185.5Z" fill="#fff"/>
<path d="M972.3 160L1014.7 160L1014.7 164.5L995.3 198.1L991.7 198.1L972.3 164.5Z" fill="#00ae66"/><path d="M977.2 163.7L1009.8 163.7L1005.1 171.9L981.9 171.9Z" fill="#fff"/>
<path d="M1006.7 149.4L1049.1 149.4L1049.1 153.9L1029.7 187.5L1026.1 187.5L1006.7 153.9Z" fill="#00ae66"/><path d="M1011.6 153.1L1044.2 153.1L1039.5 161.3L1016.3 161.3Z" fill="#fff"/>
<path d="M1040.5 139L1082.9 139L1082.9 143.5L1063.5 177.1L1059.9 177.1L1040.5 143.5Z" fill="#00ae66"/><path d="M1045.4 142.7L1078 142.7L1073.3 150.9L1050.1 150.9Z" fill="#fff"/>
<path d="M1075.9 126.8L1118.3 126.8L1118.3 131.3L1098.9 164.9L1095.3 164.9L1075.9 131.3Z" fill="#00ae66"/><path d="M1080.8 130.5L1113.4 130.5L1108.7 138.7L1085.5 138.7Z" fill="#fff"/>
<path d="M1110.5 109L1152.9 109L1152.9 113.5L1133.5 147.1L1129.9 147.1L1110.5 113.5Z" fill="#00ae66"/><path d="M1115.4 112.7L1148 112.7L1143.3 120.9L1120.1 120.9Z" fill="#fff"/>
<path d="M1146.7 93L1189.1 93L1189.1 97.5L1169.7 131.1L1166.1 131.1L1146.7 97.5Z" fill="#00ae66"/><path d="M1151.6 96.7L1184.2 96.7L1179.5 104.9L1156.3 104.9Z" fill="#fff"/>
<path d="M1183.3 90.2L1225.7 90.2L1225.7 94.7L1206.3 128.3L1202.7 128.3L1183.3 94.7Z" fill="#00ae66"/><path d="M1188.2 93.9L1220.8 93.9L1216.1 102.1L1192.9 102.1Z" fill="#fff"/>
<path d="M1220 81.2L1262.4 81.2L1262.4 85.7L1243 119.3L1239.4 119.3L1220 85.7Z" fill="#00ae66"/><path d="M1224.9 84.9L1257.5 84.9L1252.8 93.1L1229.6 93.1Z" fill="#fff"/>
<path d="M1256.9 64L1299.3 64L1299.3 68.5L1279.9 102.1L1276.3 102.1L1256.9 68.5Z" fill="#00ae66"/><path d="M1261.8 67.7L1294.4 67.7L1289.7 75.9L1266.5 75.9Z" fill="#fff"/>
<path d="M1295.3 45.9L1337.7 45.9L1337.7 50.4L1318.3 84L1314.7 84L1295.3 50.4Z" fill="#00ae66"/><path d="M1300.2 49.6L1332.8 49.6L1328.1 57.8L1304.9 57.8Z" fill="#fff"/>
<path d="M1332.3 43.3L1374.7 43.3L1374.7 47.8L1355.3 81.4L1351.7 81.4L1332.3 47.8Z" fill="#00ae66"/><path d="M1337.2 47L1369.8 47L1365.1 55.2L1341.9 55.2Z" fill="#fff"/>
<path d="M1370.4 43.3L1412.8 43.3L1412.8 47.8L1393.4 81.4L1389.8 81.4L1370.4 47.8Z" fill="#00ae66"/><path d="M1375.3 47L1407.9 47L1403.2 55.2L1380 55.2Z" fill="#fff"/>
<path d="M1408.2 39.9L1450.6 39.9L1450.6 44.4L1431.2 78L1427.6 78L1408.2 44.4Z" fill="#00ae66"/><path d="M1413.1 43.6L1445.7 43.6L1441 51.8L1417.8 51.8Z" fill="#fff"/>
<path d="M1446.4 36.6L1488.8 36.6L1488.8 41.1L1469.4 74.7L1465.8 74.7L1446.4 41.1Z" fill="#00ae66"/><path d="M1451.3 40.3L1483.9 40.3L1479.2 48.5L1456 48.5Z" fill="#fff"/>
<path d="M1484.6 34.1L1527 34.1L1527 38.6L1507.6 72.2L1504 72.2L1484.6 38.6Z" fill="#00ae66"/><path d="M1489.5 37.8L1522.1 37.8L1517.4 46L1494.2 46Z" fill="#fff"/>
<path d="M1522.3 34.1L1564.7 34.1L1564.7 38.6L1545.3 72.2L1541.7 72.2L1522.3 38.6Z" fill="#00ae66"/><path d="M1527.2 37.8L1559.8 37.8L1555.1 46L1531.9 46Z" fill="#fff"/>
<path d="M1560.5 33.6L1602.9 33.6L1602.9 38.1L1583.5 71.7L1579.9 71.7L1560.5 38.1Z" fill="#00ae66"/><path d="M1565.4 37.3L1598 37.3L1593.3 45.5L1570.1 45.5Z" fill="#fff"/>
<path d="M1598.3 33.1L1640.7 33.1L1640.7 37.6L1621.3 71.2L1617.7 71.2L1598.3 37.6Z" fill="#00ae66"/><path d="M1603.2 36.8L1635.8 36.8L1631.1 45L1607.9 45Z" fill="#fff"/>
<path d="M1636.3 32.6L1678.7 32.6L1678.7 37.1L1659.3 70.7L1655.7 70.7L1636.3 37.1Z" fill="#00ae66"/><path d="M1641.2 36.3L1673.8 36.3L1669.1 44.5L1645.9 44.5Z" fill="#fff"/>
<path d="M1673.3 32.6L1715.7 32.6L1715.7 37.1L1696.3 70.7L1692.7 70.7L1673.3 37.1Z" fill="#00ae66"/><path d="M1678.2 36.3L1710.8 36.3L1706.1 44.5L1682.9 44.5Z" fill="#fff"/>
<path d="M1710.9 32.2L1753.3 32.2L1753.3 36.7L1733.9 70.3L1730.3 70.3L1710.9 36.7Z" fill="#00ae66"/><path d="M1715.8 35.9L1748.4 35.9L1743.7 44.1L1720.5 44.1Z" fill="#fff"/>
<path d="M1748.2 32.2L1790.6 32.2L1790.6 36.7L1771.2 70.3L1767.6 70.3L1748.2 36.7Z" fill="#00ae66"/><path d="M1753.1 35.9L1785.7 35.9L1781 44.1L1757.8 44.1Z" fill="#fff"/>
<path d="M1784.9 32.2L1827.3 32.2L1827.3 36.7L1807.9 70.3L1804.3 70.3L1784.9 36.7Z" fill="#00ae66"/><path d="M1789.8 35.9L1822.4 35.9L1817.7 44.1L1794.5 44.1Z" fill="#fff"/>
<path d="M1821.2 32.2L1863.6 32.2L1863.6 36.7L1844.2 70.3L1840.6 70.3L1821.2 36.7Z" fill="#00ae66"/><path d="M1826.1 35.9L1858.7 35.9L1854 44.1L1830.8 44.1Z" fill="#fff"/>
<path d="M1857.4 32.2L1899.8 32.2L1899.8 36.7L1880.4 70.3L1876.8 70.3L1857.4 36.7Z" fill="#00ae66"/><path d="M1862.3 35.9L1894.9 35.9L1890.2 44.1L1867 44.1Z" fill="#fff"/>
<path d="M1893.4 32.2L1935.8 32.2L1935.8 36.7L1916.4 70.3L1912.8 70.3L1893.4 36.7Z" fill="#00ae66"/><path d="M1898.3 35.9L1930.9 35.9L1926.2 44.1L1903 44.1Z" fill="#fff"/>
<path d="M1928.7 32.2L1971.1 32.2L1971.1 36.7L1951.7 70.3L1948.1 70.3L1928.7 36.7Z" fill="#00ae66"/><path d="M1933.6 35.9L1966.2 35.9L1961.5 44.1L1938.3 44.1Z" fill="#fff"/>
<path d="M1963.4 32.2L2005.8 32.2L2005.8 36.7L1986.4 70.3L1982.8 70.3L1963.4 36.7Z" fill="#00ae66"/><path d="M1968.3 35.9L2000.9 35.9L1996.2 44.1L1973 44.1Z" fill="#fff"/>
<path d="M1997.7 32.2L2040.1 32.2L2040.1 36.7L2020.7 70.3L2017.1 70.3L1997.7 36.7Z" fill="#00ae66"/><path d="M2002.6 35.9L2035.2 35.9L2030.5 44.1L2007.3 44.1Z" fill="#fff"/>
</g>
<g id="s-pc7"><polyline points="393.3,1382 401.2,1273 410.8,1180.4 418.4,1104.5 427.6,1035.9 437.3,982.3 448.3,910.7 459.2,846.8 472.6,792.6 485.7,740.6 500.2,688.2 514.5,673.5 532,690.2 549.6,696.2 568.1,694.4 585.7,689.2 606.8,672.4 627.6,638 651.3,596.4 673.9,551.4 698.8,523.5 723.6,524.4 751.2,516.7 778.5,478 806.7,444.5 835.8,445.8 865,425.2 896.4,382.4 928.2,341.1 960.4,333.2 993.5,317 1027.9,292 1061.7,269 1097.1,247.6 1131.7,218 1167.9,187 1204.5,180 1241.2,164.6 1278.1,134 1316.5,103.8 1353.5,92.2 1391.6,86.5 1429.4,75 1467.6,63.8 1505.8,59.2 1543.5,59.2 1581.7,56.2 1619.5,51.1 1657.5,49 1694.5,48.6 1732.1,46.8 1769.4,46.4 1806.1,46.4 1842.4,46.4 1878.6,46.4 1914.6,46.4 1949.9,46.4 1984.6,46.4 2018.9,46.4" fill="none" stroke="#c278e4" stroke-width="2.8" stroke-linejoin="round"/>
<path d="M392.6 1358.7L394 1358.7L415.2 1379.9L415.2 1384.1L394 1405.3L392.6 1405.3L371.4 1384.1L371.4 1379.9Z" fill="#c278e4"/><path d="M393.3 1363.2L410 1379.9L376.6 1379.9Z" fill="#fff"/>
<path d="M400.5 1249.7L401.9 1249.7L423.1 1270.9L423.1 1275.1L401.9 1296.3L400.5 1296.3L379.3 1275.1L379.3 1270.9Z" fill="#c278e4"/><path d="M401.2 1254.2L417.9 1270.9L384.5 1270.9Z" fill="#fff"/>
<path d="M410.1 1157.1L411.5 1157.1L432.7 1178.3L432.7 1182.5L411.5 1203.7L410.1 1203.7L388.9 1182.5L388.9 1178.3Z" fill="#c278e4"/><path d="M410.8 1161.6L427.5 1178.3L394.1 1178.3Z" fill="#fff"/>
<path d="M417.7 1081.2L419.1 1081.2L440.3 1102.4L440.3 1106.6L419.1 1127.8L417.7 1127.8L396.5 1106.6L396.5 1102.4Z" fill="#c278e4"/><path d="M418.4 1085.7L435.1 1102.4L401.7 1102.4Z" fill="#fff"/>
<path d="M426.9 1012.6L428.3 1012.6L449.5 1033.8L449.5 1038L428.3 1059.2L426.9 1059.2L405.7 1038L405.7 1033.8Z" fill="#c278e4"/><path d="M427.6 1017.1L444.3 1033.8L410.9 1033.8Z" fill="#fff"/>
<path d="M436.6 959L438 959L459.2 980.2L459.2 984.4L438 1005.6L436.6 1005.6L415.4 984.4L415.4 980.2Z" fill="#c278e4"/><path d="M437.3 963.5L454 980.2L420.6 980.2Z" fill="#fff"/>
<path d="M447.6 887.4L449 887.4L470.2 908.6L470.2 912.8L449 934L447.6 934L426.4 912.8L426.4 908.6Z" fill="#c278e4"/><path d="M448.3 891.9L465 908.6L431.6 908.6Z" fill="#fff"/>
<path d="M458.5 823.5L459.9 823.5L481.1 844.7L481.1 848.9L459.9 870.1L458.5 870.1L437.3 848.9L437.3 844.7Z" fill="#c278e4"/><path d="M459.2 828L475.9 844.7L442.5 844.7Z" fill="#fff"/>
<path d="M471.9 769.3L473.3 769.3L494.5 790.5L494.5 794.7L473.3 815.9L471.9 815.9L450.7 794.7L450.7 790.5Z" fill="#c278e4"/><path d="M472.6 773.8L489.3 790.5L455.9 790.5Z" fill="#fff"/>
<path d="M485 717.3L486.4 717.3L507.6 738.5L507.6 742.7L486.4 763.9L485 763.9L463.8 742.7L463.8 738.5Z" fill="#c278e4"/><path d="M485.7 721.8L502.4 738.5L469 738.5Z" fill="#fff"/>
<path d="M499.5 664.9L500.9 664.9L522.1 686.1L522.1 690.3L500.9 711.5L499.5 711.5L478.3 690.3L478.3 686.1Z" fill="#c278e4"/><path d="M500.2 669.4L516.9 686.1L483.5 686.1Z" fill="#fff"/>
<path d="M513.8 650.2L515.2 650.2L536.4 671.4L536.4 675.6L515.2 696.8L513.8 696.8L492.6 675.6L492.6 671.4Z" fill="#c278e4"/><path d="M514.5 654.7L531.2 671.4L497.8 671.4Z" fill="#fff"/>
<path d="M531.3 666.9L532.7 666.9L553.9 688.1L553.9 692.3L532.7 713.5L531.3 713.5L510.1 692.3L510.1 688.1Z" fill="#c278e4"/><path d="M532 671.4L548.7 688.1L515.3 688.1Z" fill="#fff"/>
<path d="M548.9 672.9L550.3 672.9L571.5 694.1L571.5 698.3L550.3 719.5L548.9 719.5L527.7 698.3L527.7 694.1Z" fill="#c278e4"/><path d="M549.6 677.4L566.3 694.1L532.9 694.1Z" fill="#fff"/>
<path d="M567.4 671.1L568.8 671.1L590 692.3L590 696.5L568.8 717.7L567.4 717.7L546.2 696.5L546.2 692.3Z" fill="#c278e4"/><path d="M568.1 675.6L584.8 692.3L551.4 692.3Z" fill="#fff"/>
<path d="M585 665.9L586.4 665.9L607.6 687.1L607.6 691.3L586.4 712.5L585 712.5L563.8 691.3L563.8 687.1Z" fill="#c278e4"/><path d="M585.7 670.4L602.4 687.1L569 687.1Z" fill="#fff"/>
<path d="M606.1 649.1L607.5 649.1L628.7 670.3L628.7 674.5L607.5 695.7L606.1 695.7L584.9 674.5L584.9 670.3Z" fill="#c278e4"/><path d="M606.8 653.6L623.5 670.3L590.1 670.3Z" fill="#fff"/>
<path d="M626.9 614.7L628.3 614.7L649.5 635.9L649.5 640.1L628.3 661.3L626.9 661.3L605.7 640.1L605.7 635.9Z" fill="#c278e4"/><path d="M627.6 619.2L644.3 635.9L610.9 635.9Z" fill="#fff"/>
<path d="M650.6 573.1L652 573.1L673.2 594.3L673.2 598.5L652 619.7L650.6 619.7L629.4 598.5L629.4 594.3Z" fill="#c278e4"/><path d="M651.3 577.6L668 594.3L634.6 594.3Z" fill="#fff"/>
<path d="M673.2 528.1L674.6 528.1L695.8 549.3L695.8 553.5L674.6 574.7L673.2 574.7L652 553.5L652 549.3Z" fill="#c278e4"/><path d="M673.9 532.6L690.6 549.3L657.2 549.3Z" fill="#fff"/>
<path d="M698.1 500.2L699.5 500.2L720.7 521.4L720.7 525.6L699.5 546.8L698.1 546.8L676.9 525.6L676.9 521.4Z" fill="#c278e4"/><path d="M698.8 504.7L715.5 521.4L682.1 521.4Z" fill="#fff"/>
<path d="M722.9 501.1L724.3 501.1L745.5 522.3L745.5 526.5L724.3 547.7L722.9 547.7L701.7 526.5L701.7 522.3Z" fill="#c278e4"/><path d="M723.6 505.6L740.3 522.3L706.9 522.3Z" fill="#fff"/>
<path d="M750.5 493.4L751.9 493.4L773.1 514.6L773.1 518.8L751.9 540L750.5 540L729.3 518.8L729.3 514.6Z" fill="#c278e4"/><path d="M751.2 497.9L767.9 514.6L734.5 514.6Z" fill="#fff"/>
<path d="M777.8 454.7L779.2 454.7L800.4 475.9L800.4 480.1L779.2 501.3L777.8 501.3L756.6 480.1L756.6 475.9Z" fill="#c278e4"/><path d="M778.5 459.2L795.2 475.9L761.8 475.9Z" fill="#fff"/>
<path d="M806 421.2L807.4 421.2L828.6 442.4L828.6 446.6L807.4 467.8L806 467.8L784.8 446.6L784.8 442.4Z" fill="#c278e4"/><path d="M806.7 425.7L823.4 442.4L790 442.4Z" fill="#fff"/>
<path d="M835.1 422.5L836.5 422.5L857.7 443.7L857.7 447.9L836.5 469.1L835.1 469.1L813.9 447.9L813.9 443.7Z" fill="#c278e4"/><path d="M835.8 427L852.5 443.7L819.1 443.7Z" fill="#fff"/>
<path d="M864.3 401.9L865.7 401.9L886.9 423.1L886.9 427.3L865.7 448.5L864.3 448.5L843.1 427.3L843.1 423.1Z" fill="#c278e4"/><path d="M865 406.4L881.7 423.1L848.3 423.1Z" fill="#fff"/>
<path d="M895.7 359.1L897.1 359.1L918.3 380.3L918.3 384.5L897.1 405.7L895.7 405.7L874.5 384.5L874.5 380.3Z" fill="#c278e4"/><path d="M896.4 363.6L913.1 380.3L879.7 380.3Z" fill="#fff"/>
<path d="M927.5 317.8L928.9 317.8L950.1 339L950.1 343.2L928.9 364.4L927.5 364.4L906.3 343.2L906.3 339Z" fill="#c278e4"/><path d="M928.2 322.3L944.9 339L911.5 339Z" fill="#fff"/>
<path d="M959.7 309.9L961.1 309.9L982.3 331.1L982.3 335.3L961.1 356.5L959.7 356.5L938.5 335.3L938.5 331.1Z" fill="#c278e4"/><path d="M960.4 314.4L977.1 331.1L943.7 331.1Z" fill="#fff"/>
<path d="M992.8 293.7L994.2 293.7L1015.4 314.9L1015.4 319.1L994.2 340.3L992.8 340.3L971.6 319.1L971.6 314.9Z" fill="#c278e4"/><path d="M993.5 298.2L1010.2 314.9L976.8 314.9Z" fill="#fff"/>
<path d="M1027.2 268.7L1028.6 268.7L1049.8 289.9L1049.8 294.1L1028.6 315.3L1027.2 315.3L1006 294.1L1006 289.9Z" fill="#c278e4"/><path d="M1027.9 273.2L1044.6 289.9L1011.2 289.9Z" fill="#fff"/>
<path d="M1061 245.7L1062.4 245.7L1083.6 266.9L1083.6 271.1L1062.4 292.3L1061 292.3L1039.8 271.1L1039.8 266.9Z" fill="#c278e4"/><path d="M1061.7 250.2L1078.4 266.9L1045 266.9Z" fill="#fff"/>
<path d="M1096.4 224.3L1097.8 224.3L1119 245.5L1119 249.7L1097.8 270.9L1096.4 270.9L1075.2 249.7L1075.2 245.5Z" fill="#c278e4"/><path d="M1097.1 228.8L1113.8 245.5L1080.4 245.5Z" fill="#fff"/>
<path d="M1131 194.7L1132.4 194.7L1153.6 215.9L1153.6 220.1L1132.4 241.3L1131 241.3L1109.8 220.1L1109.8 215.9Z" fill="#c278e4"/><path d="M1131.7 199.2L1148.4 215.9L1115 215.9Z" fill="#fff"/>
<path d="M1167.2 163.7L1168.6 163.7L1189.8 184.9L1189.8 189.1L1168.6 210.3L1167.2 210.3L1146 189.1L1146 184.9Z" fill="#c278e4"/><path d="M1167.9 168.2L1184.6 184.9L1151.2 184.9Z" fill="#fff"/>
<path d="M1203.8 156.7L1205.2 156.7L1226.4 177.9L1226.4 182.1L1205.2 203.3L1203.8 203.3L1182.6 182.1L1182.6 177.9Z" fill="#c278e4"/><path d="M1204.5 161.2L1221.2 177.9L1187.8 177.9Z" fill="#fff"/>
<path d="M1240.5 141.3L1241.9 141.3L1263.1 162.5L1263.1 166.7L1241.9 187.9L1240.5 187.9L1219.3 166.7L1219.3 162.5Z" fill="#c278e4"/><path d="M1241.2 145.8L1257.9 162.5L1224.5 162.5Z" fill="#fff"/>
<path d="M1277.4 110.7L1278.8 110.7L1300 131.9L1300 136.1L1278.8 157.3L1277.4 157.3L1256.2 136.1L1256.2 131.9Z" fill="#c278e4"/><path d="M1278.1 115.2L1294.8 131.9L1261.4 131.9Z" fill="#fff"/>
<path d="M1315.8 80.5L1317.2 80.5L1338.4 101.7L1338.4 105.9L1317.2 127.1L1315.8 127.1L1294.6 105.9L1294.6 101.7Z" fill="#c278e4"/><path d="M1316.5 85L1333.2 101.7L1299.8 101.7Z" fill="#fff"/>
<path d="M1352.8 68.9L1354.2 68.9L1375.4 90.1L1375.4 94.3L1354.2 115.5L1352.8 115.5L1331.6 94.3L1331.6 90.1Z" fill="#c278e4"/><path d="M1353.5 73.4L1370.2 90.1L1336.8 90.1Z" fill="#fff"/>
<path d="M1390.9 63.2L1392.3 63.2L1413.5 84.4L1413.5 88.6L1392.3 109.8L1390.9 109.8L1369.7 88.6L1369.7 84.4Z" fill="#c278e4"/><path d="M1391.6 67.7L1408.3 84.4L1374.9 84.4Z" fill="#fff"/>
<path d="M1428.7 51.7L1430.1 51.7L1451.3 72.9L1451.3 77.1L1430.1 98.3L1428.7 98.3L1407.5 77.1L1407.5 72.9Z" fill="#c278e4"/><path d="M1429.4 56.2L1446.1 72.9L1412.7 72.9Z" fill="#fff"/>
<path d="M1466.9 40.5L1468.3 40.5L1489.5 61.7L1489.5 65.9L1468.3 87.1L1466.9 87.1L1445.7 65.9L1445.7 61.7Z" fill="#c278e4"/><path d="M1467.6 45L1484.3 61.7L1450.9 61.7Z" fill="#fff"/>
<path d="M1505.1 35.9L1506.5 35.9L1527.7 57.1L1527.7 61.3L1506.5 82.5L1505.1 82.5L1483.9 61.3L1483.9 57.1Z" fill="#c278e4"/><path d="M1505.8 40.4L1522.5 57.1L1489.1 57.1Z" fill="#fff"/>
<path d="M1542.8 35.9L1544.2 35.9L1565.4 57.1L1565.4 61.3L1544.2 82.5L1542.8 82.5L1521.6 61.3L1521.6 57.1Z" fill="#c278e4"/><path d="M1543.5 40.4L1560.2 57.1L1526.8 57.1Z" fill="#fff"/>
<path d="M1581 32.9L1582.4 32.9L1603.6 54.1L1603.6 58.3L1582.4 79.5L1581 79.5L1559.8 58.3L1559.8 54.1Z" fill="#c278e4"/><path d="M1581.7 37.4L1598.4 54.1L1565 54.1Z" fill="#fff"/>
<path d="M1618.8 27.8L1620.2 27.8L1641.4 49L1641.4 53.2L1620.2 74.4L1618.8 74.4L1597.6 53.2L1597.6 49Z" fill="#c278e4"/><path d="M1619.5 32.3L1636.2 49L1602.8 49Z" fill="#fff"/>
<path d="M1656.8 25.7L1658.2 25.7L1679.4 46.9L1679.4 51.1L1658.2 72.3L1656.8 72.3L1635.6 51.1L1635.6 46.9Z" fill="#c278e4"/><path d="M1657.5 30.2L1674.2 46.9L1640.8 46.9Z" fill="#fff"/>
<path d="M1693.8 25.3L1695.2 25.3L1716.4 46.5L1716.4 50.7L1695.2 71.9L1693.8 71.9L1672.6 50.7L1672.6 46.5Z" fill="#c278e4"/><path d="M1694.5 29.8L1711.2 46.5L1677.8 46.5Z" fill="#fff"/>
<path d="M1731.4 23.5L1732.8 23.5L1754 44.7L1754 48.9L1732.8 70.1L1731.4 70.1L1710.2 48.9L1710.2 44.7Z" fill="#c278e4"/><path d="M1732.1 28L1748.8 44.7L1715.4 44.7Z" fill="#fff"/>
<path d="M1768.7 23.1L1770.1 23.1L1791.3 44.3L1791.3 48.5L1770.1 69.7L1768.7 69.7L1747.5 48.5L1747.5 44.3Z" fill="#c278e4"/><path d="M1769.4 27.6L1786.1 44.3L1752.7 44.3Z" fill="#fff"/>
<path d="M1805.4 23.1L1806.8 23.1L1828 44.3L1828 48.5L1806.8 69.7L1805.4 69.7L1784.2 48.5L1784.2 44.3Z" fill="#c278e4"/><path d="M1806.1 27.6L1822.8 44.3L1789.4 44.3Z" fill="#fff"/>
<path d="M1841.7 23.1L1843.1 23.1L1864.3 44.3L1864.3 48.5L1843.1 69.7L1841.7 69.7L1820.5 48.5L1820.5 44.3Z" fill="#c278e4"/><path d="M1842.4 27.6L1859.1 44.3L1825.7 44.3Z" fill="#fff"/>
<path d="M1877.9 23.1L1879.3 23.1L1900.5 44.3L1900.5 48.5L1879.3 69.7L1877.9 69.7L1856.7 48.5L1856.7 44.3Z" fill="#c278e4"/><path d="M1878.6 27.6L1895.3 44.3L1861.9 44.3Z" fill="#fff"/>
<path d="M1913.9 23.1L1915.3 23.1L1936.5 44.3L1936.5 48.5L1915.3 69.7L1913.9 69.7L1892.7 48.5L1892.7 44.3Z" fill="#c278e4"/><path d="M1914.6 27.6L1931.3 44.3L1897.9 44.3Z" fill="#fff"/>
<path d="M1949.2 23.1L1950.6 23.1L1971.8 44.3L1971.8 48.5L1950.6 69.7L1949.2 69.7L1928 48.5L1928 44.3Z" fill="#c278e4"/><path d="M1949.9 27.6L1966.6 44.3L1933.2 44.3Z" fill="#fff"/>
<path d="M1983.9 23.1L1985.3 23.1L2006.5 44.3L2006.5 48.5L1985.3 69.7L1983.9 69.7L1962.7 48.5L1962.7 44.3Z" fill="#c278e4"/><path d="M1984.6 27.6L2001.3 44.3L1967.9 44.3Z" fill="#fff"/>
<path d="M2018.2 23.1L2019.6 23.1L2040.8 44.3L2040.8 48.5L2019.6 69.7L2018.2 69.7L1997 48.5L1997 44.3Z" fill="#c278e4"/><path d="M2018.9 27.6L2035.6 44.3L2002.2 44.3Z" fill="#fff"/>
</g>
</g>
<g id="legend">
<rect x="1646.7" y="888.2" width="427.9" height="565.8" fill="#fff" stroke="#000" stroke-width="2.6"/>
<line x1="1657.2" x2="1859.8" y1="950.5" y2="950.5" stroke="#747474" stroke-width="3"/>
<rect x="1742" y="934.2" width="32.5" height="32.5" fill="#747474"/><rect x="1745.5" y="937.8" width="25.5" height="11.2" fill="#fff"/>
<text class="lg" x="1879.5" y="980.3">PP</text>
<line x1="1657.2" x2="1859.8" y1="1061.5" y2="1061.5" stroke="#fe3c3c" stroke-width="3"/>
<circle cx="1758.3" cy="1061.5" r="16.5" fill="#fff" stroke="#fe3c3c" stroke-width="3.5"/><path d="M1741.8 1060H1774.8V1061.5A16.5 16.5 0 0 1 1741.8 1061.5Z" fill="#fe3c3c"/>
<text class="lg" x="1879.5" y="1091.3">PC-1</text>
<line x1="1657.2" x2="1859.8" y1="1172" y2="1172" stroke="#006ee4" stroke-width="4"/>
<path d="M1757.1 1146.7L1759.5 1146.7L1779.5 1181.3L1779.5 1185L1737.1 1185L1737.1 1181.3Z" fill="#006ee4"/><path d="M1758.3 1152.7L1768.3 1170L1748.3 1170Z" fill="#fff"/>
<text class="lg" x="1879.5" y="1201.8">PC-3</text>
<line x1="1657.2" x2="1859.8" y1="1282.5" y2="1282.5" stroke="#00ae66" stroke-width="3"/>
<path d="M1737.1 1269.1L1779.5 1269.1L1779.5 1273.6L1760.1 1307.2L1756.5 1307.2L1737.1 1273.6Z" fill="#00ae66"/><path d="M1742 1272.8L1774.6 1272.8L1769.9 1281L1746.7 1281Z" fill="#fff"/>
<text class="lg" x="1879.5" y="1312.3">PC-5</text>
<line x1="1657.2" x2="1859.8" y1="1393.4" y2="1393.4" stroke="#c278e4" stroke-width="3"/>
<path d="M1757.6 1370.1L1759 1370.1L1780.2 1391.3L1780.2 1395.5L1759 1416.7L1757.6 1416.7L1736.4 1395.5L1736.4 1391.3Z" fill="#c278e4"/><path d="M1758.3 1374.6L1775 1391.3L1741.6 1391.3Z" fill="#fff"/>
<text class="lg" x="1879.5" y="1423.2">PC-7</text>
</g>
<g id="ylabels" text-anchor="end">
<text class="tk" transform="translate(286.8,1531.0) scale(1,1.035)">0</text>
<text class="tk" transform="translate(286.8,1239.5) scale(1,1.035)">20</text>
<text class="tk" transform="translate(286.8,948.0) scale(1,1.035)">40</text>
<text class="tk" transform="translate(286.8,656.5) scale(1,1.035)">60</text>
<text class="tk" transform="translate(286.8,365.0) scale(1,1.035)">80</text>
<text class="tk" transform="translate(286.8,73.5) scale(1,1.035)">100</text>
</g>
<g id="xlabels" text-anchor="middle">
<text class="tk" transform="translate(326,1608.6) scale(1,1.035)">0</text>
<text class="tk" transform="translate(488.8,1608.6) scale(1,1.035)">0.25</text>
<text class="tk" transform="translate(853.2,1608.6) scale(1,1.035)">0.5</text>
<text class="tk" transform="translate(1217.6,1608.6) scale(1,1.035)">1</text>
<text class="tk" transform="translate(1581.9,1608.6) scale(1,1.035)">2</text>
<text class="tk" transform="translate(1946.3,1608.6) scale(1,1.035)">4</text>
</g>
<text class="ti" transform="translate(775.2,1764.9) scale(1,1.012)">Particle size (μm)</text>
<text class="ti" style="font-size:124.1px" transform="translate(102.9,1377.6) rotate(-90) scale(1,1.012)">Filtration Efficiency (%)</text>
</svg></body></html>
